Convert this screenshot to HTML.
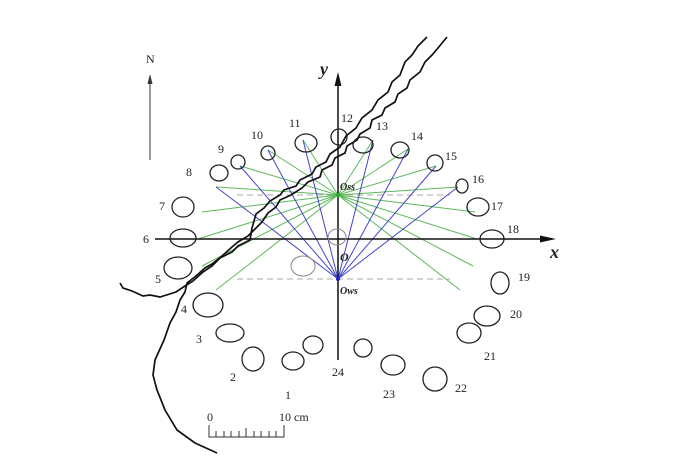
<!DOCTYPE html>
<html><head><meta charset="utf-8"><style>
html,body{margin:0;padding:0;background:#fff;}
svg{display:block;}
text{font-family:"Liberation Serif",serif;font-size:12px;fill:#222;}
</style></head><body>
<svg width="700" height="467" viewBox="0 0 700 467" xmlns="http://www.w3.org/2000/svg">
<line x1="237" y1="195" x2="450" y2="195" stroke="#aaa" stroke-dasharray="6,4"/>
<line x1="237" y1="279" x2="450" y2="279" stroke="#aaa" stroke-dasharray="6,4"/>
<g stroke="#5cb85c" stroke-width="1">
<line x1="338" y1="195" x2="338" y2="133"/>
<line x1="338" y1="195" x2="373" y2="140"/>
<line x1="338" y1="195" x2="303" y2="140"/>
<line x1="338" y1="195" x2="268" y2="150"/>
<line x1="338" y1="195" x2="240" y2="166"/>
<line x1="338" y1="195" x2="216" y2="187"/>
<line x1="338" y1="195" x2="202" y2="212"/>
<line x1="338" y1="195" x2="198" y2="239"/>
<line x1="338" y1="195" x2="202" y2="266"/>
<line x1="338" y1="195" x2="216" y2="290"/>
<line x1="338" y1="195" x2="408" y2="149"/>
<line x1="338" y1="195" x2="436" y2="166"/>
<line x1="338" y1="195" x2="458" y2="187"/>
<line x1="338" y1="195" x2="475" y2="212"/>
<line x1="338" y1="195" x2="477" y2="239"/>
<line x1="338" y1="195" x2="473" y2="266"/>
<line x1="338" y1="195" x2="460" y2="290"/>
</g>
<g stroke="#4444cc" stroke-width="1">
<line x1="338" y1="279" x2="216" y2="187"/>
<line x1="338" y1="279" x2="240" y2="166"/>
<line x1="338" y1="279" x2="268" y2="150"/>
<line x1="338" y1="279" x2="303" y2="140"/>
<line x1="338" y1="279" x2="338" y2="195"/>
<line x1="338" y1="279" x2="373" y2="140"/>
<line x1="338" y1="279" x2="408" y2="149"/>
<line x1="338" y1="279" x2="436" y2="166"/>
<line x1="338" y1="279" x2="458" y2="187"/>
</g>
<line x1="338" y1="360" x2="338" y2="82" stroke="#111" stroke-width="1.5"/>
<polygon points="338,72 334.5,86 341.5,86" fill="#111"/>
<line x1="155" y1="239" x2="545" y2="239" stroke="#111" stroke-width="1.5"/>
<polygon points="556,239 540,235.5 540,242.5" fill="#111"/>
<circle cx="338" cy="195" r="2" fill="#2a2"/>
<circle cx="338" cy="279" r="2" fill="#22c"/>
<g fill="none" stroke="#222" stroke-width="1.3">
<ellipse cx="219" cy="173" rx="9" ry="8"/>
<ellipse cx="183" cy="207" rx="11" ry="10"/>
<ellipse cx="183" cy="238" rx="13" ry="9"/>
<ellipse cx="178" cy="268" rx="14" ry="11"/>
<ellipse cx="208" cy="305" rx="15" ry="12"/>
<ellipse cx="230" cy="333" rx="14" ry="9"/>
<ellipse cx="253" cy="359" rx="11" ry="12"/>
<ellipse cx="293" cy="361" rx="11" ry="9"/>
<ellipse cx="313" cy="345" rx="10" ry="9"/>
<ellipse cx="363" cy="348" rx="9" ry="9"/>
<ellipse cx="393" cy="365" rx="12" ry="10"/>
<ellipse cx="435" cy="379" rx="12" ry="12"/>
<ellipse cx="469" cy="333" rx="12" ry="10"/>
<ellipse cx="487" cy="316" rx="13" ry="10"/>
<ellipse cx="500" cy="283" rx="9" ry="11"/>
<ellipse cx="492" cy="239" rx="12" ry="9"/>
<ellipse cx="478" cy="207" rx="11" ry="9"/>
<ellipse cx="462" cy="186" rx="6" ry="7"/>
<ellipse cx="435" cy="163" rx="8" ry="8"/>
<ellipse cx="400" cy="150" rx="9" ry="8"/>
<ellipse cx="363" cy="145" rx="10" ry="8"/>
<ellipse cx="339" cy="137" rx="8" ry="8"/>
<ellipse cx="306" cy="143" rx="11" ry="9"/>
<ellipse cx="268" cy="153" rx="7" ry="7"/>
<ellipse cx="238" cy="162" rx="7" ry="7"/>
</g>
<g fill="none" stroke="#888" stroke-width="1">
<ellipse cx="303" cy="266" rx="12" ry="10"/>
<ellipse cx="337" cy="237" rx="9" ry="8"/>
</g>
<polyline fill="none" stroke="#111" stroke-width="1.7" points="427,37 418,46 412,55 405,62 400,75 392,82 388,92 378,100 372,110 362,118 356,128 346,136 340,147 330,154 326,162 316,167 312,174 300,180 296,186 284,190 280,195 270,201 264,208 256,214 252,228 250,240 238,246 232,252 220,258 212,266 203,272 193,281 185,286 176,292 160,297 150,295 143,296 132,291 123,288 120,283"/>
<polyline fill="none" stroke="#111" stroke-width="1.7" points="447,37 438,48 432,55 425,62 420,72 410,80 407,88 398,94 395,102 385,108 382,115 372,120 370,128 360,134 357,140 347,146 345,153 335,158 332,165 322,170 320,177 308,182 302,188 291,195 280,200 276,207 268,213 262,222 256,228 248,236 238,242 232,247 222,256 212,264 205,268 196,276 187,283 185,292 180,300 176,312 170,323 164,340 155,360 153,375 157,390 165,410 177,430 195,443 217,453"/>
<line x1="150" y1="160" x2="150" y2="80" stroke="#333" stroke-width="1"/>
<polygon points="150,74 147.5,84 152.5,84" fill="#333"/>
<text x="146" y="63">N</text>
<g stroke="#333" stroke-width="1" fill="none">
<polyline points="209,425 209,437 284,437 284,425"/>
<line x1="216" y1="437" x2="216" y2="431"/><line x1="224" y1="437" x2="224" y2="431"/>
<line x1="231" y1="437" x2="231" y2="431"/><line x1="239" y1="437" x2="239" y2="431"/>
<line x1="246" y1="437" x2="246" y2="428"/><line x1="254" y1="437" x2="254" y2="431"/>
<line x1="261" y1="437" x2="261" y2="431"/><line x1="269" y1="437" x2="269" y2="431"/>
<line x1="276" y1="437" x2="276" y2="431"/>
</g>
<text x="207" y="421">0</text>
<text x="279" y="421">10 cm</text>
<text x="320" y="75" style="font-size:18px;font-style:italic;font-weight:bold">y</text>
<text x="550" y="258" style="font-size:18px;font-style:italic;font-weight:bold">x</text>
<text x="340" y="190" style="font-size:10px;font-style:italic;font-weight:bold">Oss</text>
<text x="340" y="261" style="font-size:12px;font-style:italic;font-weight:bold">O</text>
<text x="340" y="294" style="font-size:10px;font-style:italic;font-weight:bold">Ows</text>
<text x="285" y="399">1</text>
<text x="230" y="381">2</text>
<text x="196" y="343">3</text>
<text x="181" y="313">4</text>
<text x="155" y="283">5</text>
<text x="143" y="243">6</text>
<text x="159" y="210">7</text>
<text x="186" y="176">8</text>
<text x="218" y="153">9</text>
<text x="251" y="139">10</text>
<text x="289" y="127">11</text>
<text x="341" y="122">12</text>
<text x="376" y="130">13</text>
<text x="411" y="140">14</text>
<text x="445" y="160">15</text>
<text x="472" y="183">16</text>
<text x="491" y="210">17</text>
<text x="507" y="233">18</text>
<text x="518" y="281">19</text>
<text x="510" y="318">20</text>
<text x="484" y="360">21</text>
<text x="455" y="392">22</text>
<text x="383" y="398">23</text>
<text x="332" y="376">24</text>
</svg>
</body></html>
